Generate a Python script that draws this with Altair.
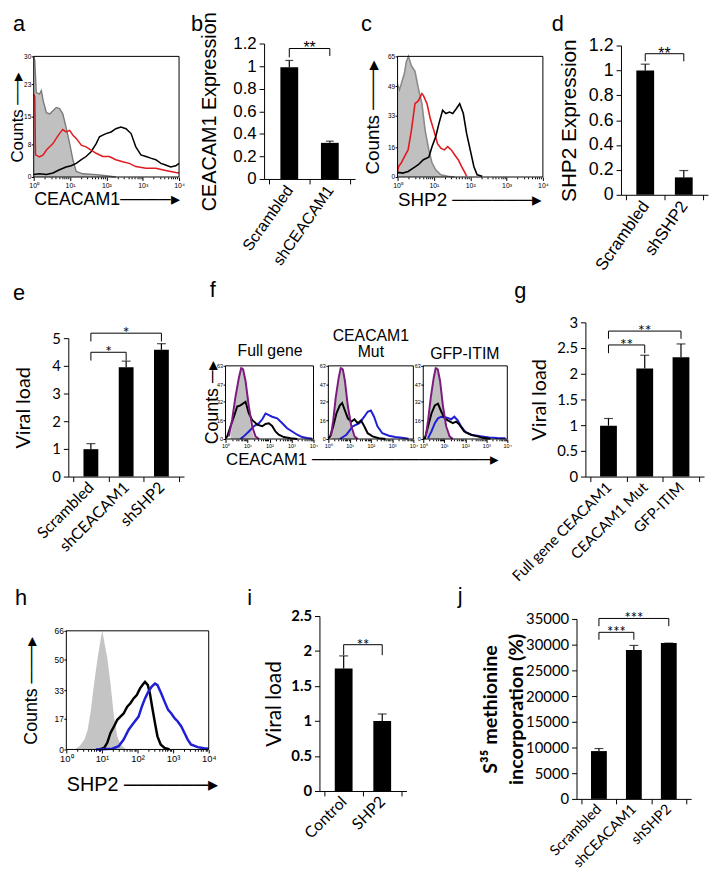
import altair as alt
import numpy as np
import pandas as pd

W, H = 709, 864
ARIAL = "Liberation Sans"
CAL = "Lato"

# ---------------- flow histograms: x = log10(fluorescence), y = counts ----------------
# panel a (CEACAM1)
a_gray_x = [0.0, 0.03, 0.07, 0.16, 0.21, 0.26, 0.35, 0.44, 0.53, 0.62, 0.71, 0.80, 0.89, 0.99, 1.08, 1.17, 1.35, 1.72, 1.99, 2.26]
a_gray_y = [30, 29, 21, 20.6, 21.5, 19, 16, 15.7, 16.5, 17.3, 17, 15.7, 12.4, 8.3, 4.2, 1.4, 0.8, 0.6, 0.3, 0]
a_red_x = [0.0, 0.03, 0.05, 0.16, 0.26, 0.35, 0.44, 0.53, 0.62, 0.71, 0.80, 0.89, 0.99, 1.08, 1.17, 1.31, 1.44, 1.58, 1.72, 1.90, 2.08, 2.26, 2.45, 2.63, 2.81, 3.09, 3.36, 3.63, 3.91, 4.0]
a_red_y = [20.6, 20, 5.5, 5, 5.5, 6.7, 7.5, 8.3, 9.6, 10.8, 11.8, 11.2, 11.6, 10.4, 9.6, 7.9, 7.5, 6.7, 5.9, 5.1, 5.1, 4.3, 3.8, 3.4, 2.6, 2.2, 2.2, 1.6, 1.1, 1.0]
a_blk_x = [0.0, 0.16, 0.35, 0.53, 0.71, 0.89, 1.03, 1.17, 1.31, 1.44, 1.58, 1.72, 1.81, 1.90, 1.99, 2.13, 2.26, 2.40, 2.54, 2.68, 2.81, 2.95, 3.09, 3.22, 3.36, 3.50, 3.63, 3.77, 3.91, 4.0]
a_blk_y = [0.6, 0.8, 0.6, 1.0, 1.8, 2.5, 2.8, 3.4, 4.3, 5.1, 6.3, 8.3, 10, 10.4, 10.8, 11.2, 12, 12.4, 12, 10.8, 7.5, 5.5, 5.1, 4.7, 4.3, 3.4, 3.0, 2.5, 2.8, 3.4]

# panel c (SHP2)
c_gray_x = [0.0, 0.05, 0.10, 0.19, 0.24, 0.30, 0.38, 0.48, 0.57, 0.67, 0.76, 0.86, 0.95, 1.05, 1.19, 1.38, 1.57]
c_gray_y = [50, 47, 50, 56, 62, 65, 60, 57, 48, 39.5, 25, 14.6, 7.5, 3.9, 1.2, 0.4, 0]
c_red_x = [0.0, 0.03, 0.10, 0.19, 0.29, 0.38, 0.48, 0.57, 0.67, 0.71, 0.81, 0.90, 1.0, 1.10, 1.19, 1.29, 1.38, 1.48, 1.57, 1.67, 1.76, 1.86, 1.90]
c_red_y = [3, 5.7, 7.5, 11, 14.6, 25, 39.5, 41, 44.9, 44, 39.5, 31.5, 25, 18, 15.5, 14.6, 16.4, 14.6, 12, 9.3, 5.7, 2.1, 0.4]
c_blk_x = [0.0, 0.03, 0.14, 0.29, 0.43, 0.57, 0.71, 0.86, 0.95, 1.05, 1.14, 1.24, 1.33, 1.43, 1.52, 1.62, 1.71, 1.81, 1.90, 2.0, 2.10, 2.19, 2.33]
c_blk_y = [2, 2.5, 2.1, 3, 4.8, 6.6, 9.3, 10.7, 16.4, 21.7, 28.9, 36, 34.2, 35, 34.2, 36.9, 39.5, 34.2, 23.5, 14.6, 5.7, 1.2, 0.4]

# panel f (three constructs)
f1_gray_x = [0.23, 0.38, 0.53, 0.68, 0.76, 0.83, 0.98, 1.14, 1.29, 1.44]
f1_gray_y = [2.3, 22, 42, 60, 63, 59, 36, 11, 1.7, 0]
f1_pur_x = [0.15, 0.30, 0.45, 0.61, 0.71, 0.80, 0.91, 1.06, 1.21, 1.36, 1.52]
f1_pur_y = [2.3, 16.4, 36, 53, 61, 60, 50, 28, 11, 2.3, 0]
f1_blk_x = [0.0, 0.08, 0.23, 0.38, 0.53, 0.68, 0.83, 0.91, 1.06, 1.21, 1.44, 1.67, 1.82, 1.97, 2.12, 2.27, 2.42, 2.65, 2.95, 3.26]
f1_blk_y = [0.5, 2.3, 11, 19.2, 28, 29, 31, 32, 22, 16.4, 12.4, 11, 13, 13.6, 11.3, 6.5, 3.7, 1.7, 0.6, 0]
f1_blu_x = [0.68, 0.83, 1.06, 1.29, 1.52, 1.67, 1.82, 1.97, 2.12, 2.35, 2.58, 2.80, 3.03, 3.26, 3.48, 3.71, 3.94]
f1_blu_y = [0, 2.3, 6.5, 11, 13.6, 17, 22, 20.6, 19.2, 17.8, 13.6, 9.3, 6.5, 3.7, 1.7, 0.8, 0.3]

f2_gray_x = [0.15, 0.31, 0.46, 0.58, 0.65, 0.74, 0.88, 1.03, 1.18, 1.34]
f2_gray_y = [2, 25, 48, 60, 63, 57, 35, 11, 2, 0]
f2_pur_x = [0.12, 0.23, 0.35, 0.49, 0.58, 0.68, 0.78, 0.92, 1.08, 1.23, 1.38]
f2_pur_y = [2.3, 16, 36, 53, 61, 60, 50, 28, 11, 2.3, 0]
f2_blk_x = [0.0, 0.08, 0.23, 0.38, 0.54, 0.65, 0.77, 0.92, 1.08, 1.23, 1.38, 1.54, 1.69, 1.85, 2.08, 2.38, 2.69]
f2_blk_y = [0.5, 2, 11, 22, 29, 31, 25, 17.8, 15, 17, 13.6, 16, 11, 5, 2.3, 0.6, 0]
f2_blu_x = [0.54, 0.85, 1.15, 1.46, 1.69, 1.85, 2.0, 2.15, 2.31, 2.54, 2.85, 3.15, 3.46, 3.77]
f2_blu_y = [0, 3.7, 11, 13.6, 19.2, 23.5, 24.5, 19.2, 11, 5, 2.8, 1.7, 1.1, 0.3]

f3_gray_x = [0.16, 0.31, 0.47, 0.59, 0.66, 0.75, 0.89, 1.05, 1.20, 1.36]
f3_gray_y = [2, 25, 48, 60, 63, 57, 35, 11, 2, 0]
f3_pur_x = [0.12, 0.23, 0.36, 0.50, 0.59, 0.69, 0.80, 0.94, 1.09, 1.25, 1.41]
f3_pur_y = [2.3, 16, 36, 53, 61, 60, 50, 28, 11, 2.3, 0]
f3_blk_x = [0.0, 0.08, 0.23, 0.39, 0.55, 0.70, 0.86, 1.02, 1.17, 1.41, 1.56, 1.72, 1.95, 2.27, 2.58, 2.89, 3.20]
f3_blk_y = [0.5, 0.8, 11, 22, 29, 30.5, 23.5, 17.8, 16, 13.6, 15, 12.4, 6.5, 3.7, 2.3, 0.8, 0.3]
f3_blu_x = [0.23, 0.39, 0.55, 0.70, 0.86, 1.09, 1.33, 1.48, 1.64, 1.80, 2.03, 2.34, 2.73, 3.13, 3.52, 3.91]
f3_blu_y = [0.8, 6.5, 13.6, 17.8, 19.2, 18.6, 17, 19.2, 16, 11, 5.6, 3.4, 2.3, 1.4, 0.8, 0.6]

# panel h (SHP2)
h_gray_x = [0.23, 0.37, 0.51, 0.60, 0.69, 0.78, 0.88, 0.97, 1.01, 1.06, 1.15, 1.24, 1.34, 1.43, 1.52, 1.66, 1.80]
h_gray_y = [0, 1.8, 5.5, 11, 22, 36.7, 51, 62, 66, 60.5, 51, 36.7, 18, 7.3, 2.75, 0.4, 0]
h_blk_x = [0.92, 1.06, 1.15, 1.24, 1.34, 1.43, 1.52, 1.61, 1.71, 1.80, 1.89, 1.98, 2.07, 2.17, 2.21, 2.29, 2.35, 2.41, 2.49, 2.56, 2.65, 2.76, 2.90]
h_blk_y = [0, 0.9, 3.7, 9.2, 12.8, 16.5, 18.3, 20, 23.8, 25.7, 28.4, 30.3, 34, 36.7, 37.6, 35.8, 31, 23.8, 14.7, 7.3, 2.75, 0.9, 0]
h_blu_x = [0.83, 1.29, 1.47, 1.61, 1.75, 1.89, 2.03, 2.12, 2.21, 2.30, 2.40, 2.49, 2.56, 2.67, 2.76, 2.86, 2.95, 3.04, 3.13, 3.23, 3.32, 3.41, 3.50, 3.69, 3.87, 4.0]
h_blu_y = [0, 0.4, 1.8, 5.5, 11, 14.7, 18.3, 23.8, 28.4, 32, 35, 36.7, 35.8, 31, 26.6, 22, 20, 17.4, 15.6, 12.8, 9.2, 5.5, 2.75, 1.3, 0.7, 0.4]

# ---------------- bar panels ----------------
b_cats = ["Scrambled", "shCEACAM1"]
b_vals = [0.99, 0.32]
b_errs = [0.06, 0.015]
b_brackets = [(0, 1, 1.156, 1.077, 1.09, "**")]

d_cats = ["Scrambled", "shSHP2"]
d_vals = [1.0, 0.14]
d_errs = [0.05, 0.055]
d_brackets = [(0, 1, 1.134, 1.073, 1.073, "**")]

e_cats = ["Scrambled", "shCEACAM1", "shSHP2"]
e_vals = [0.99, 3.95, 4.58]
e_errs = [0.2, 0.22, 0.22]
e_brackets = [(0, 1, 4.49, 4.19, 4.19, "*"), (0, 2, 5.18, 4.88, 4.88, "*")]

g_cats = ["Full gene CEACAM1", "CEACAM1 Mut", "GFP-ITIM"]
g_vals = [0.99, 2.10, 2.32]
g_errs = [0.14, 0.26, 0.26]
g_brackets = [(0, 1, 2.56, 2.40, 2.40, "**"), (0, 2, 2.83, 2.68, 2.68, "**")]

i_cats = ["Control", "SHP2"]
i_vals = [1.75, 1.0]
i_errs = [0.18, 0.1]
i_brackets = [(0, 1, 2.09, 1.94, 1.94, "**")]

j_cats = ["Scrambled", "shCEACAM1", "shSHP2"]
j_vals = [9300, 28950, 30300]
j_errs = [500, 900, 0]
j_brackets = [(0, 1, 32400, 30950, 30950, "***"), (0, 2, 35100, 33600, 33600, "***")]

# ---------------- helpers ----------------
MAJOR = [0, 1, 2, 3, 4]
MINOR = [float(d + np.log10(k)) for d in range(4) for k in range(2, 10)]
SUP = "['\u2070','\u00b9','\u00b2','\u00b3','\u2074']"
LOG_LABEL = "datum.value % 1 == 0 ? '10' + " + SUP + "[datum.value] : ''"
MINOR_TICK = {"condition": {"test": "datum.value % 1 != 0", "value": 1.8}, "value": 3.5}
ARROW = "\u2500"
HEAD = "\u25b8"


def hist_panel(box, ymax, yvals, ylab_fs, xlab_fs, area, curves,
               ytitle="", ytitle_fs=18, ytitle_x=0, xtitle="", xtitle_fs=18, xtitle_y=0):
    x0, x1, y0, y1 = box
    xs = alt.Scale(domain=[0, 4], range=[x0, x1], nice=False, zero=False)
    ys = alt.Scale(domain=[0, ymax], range=[y1, y0], nice=False, zero=False)
    xa = alt.Axis(orient="bottom", offset=y1 - H, values=MAJOR + MINOR, labelExpr=LOG_LABEL,
                  labelFont=ARIAL, labelFontSize=xlab_fs, labelPadding=1, labelOverlap=False,
                  labelFlush=False, tickSize=MINOR_TICK, domain=False, grid=False,
                  title=xtitle, titleFont=ARIAL, titleFontSize=xtitle_fs, titleFontWeight="normal",
                  titleAnchor="start", titleBaseline="top", titleY=xtitle_y, titleLimit=1000)
    ya = alt.Axis(orient="left", offset=-x0, values=yvals, labelFont=ARIAL, labelFontSize=ylab_fs,
                  labelPadding=0.5, tickSize=2.5, labelOverlap=False, domain=False, grid=False,
                  title=ytitle, titleFont=ARIAL, titleFontSize=ytitle_fs, titleFontWeight="normal",
                  titleBaseline="middle", titleX=ytitle_x, titleLimit=1000)

    def enc(ch):
        return ch.encode(x=alt.X("x:Q", scale=xs, axis=xa), y=alt.Y("y:Q", scale=ys, axis=ya))

    layers = []
    ax_, ay_, fill, outline, ow = area
    adf = pd.DataFrame({"x": ax_, "y": ay_})
    layers.append(alt.Chart(adf).mark_area(color=fill, opacity=1).encode(
        x=alt.X("x:Q", scale=xs, axis=xa), y=alt.Y("y:Q", scale=ys, axis=ya), y2=alt.datum(0)))
    if outline:
        layers.append(enc(alt.Chart(adf).mark_line(color=outline, strokeWidth=ow)))
    for cx, cy, col, sw in curves:
        cdf = pd.DataFrame({"x": cx, "y": cy})
        layers.append(enc(alt.Chart(cdf).mark_line(color=col, strokeWidth=sw)))
    fdf = pd.DataFrame({"x": [0], "x2": [4], "y": [0], "y2": [ymax]})
    layers.append(alt.Chart(fdf).mark_rect(filled=False, color="black", strokeWidth=1).encode(
        x=alt.X("x:Q", scale=xs, axis=xa), x2="x2:Q",
        y=alt.Y("y:Q", scale=ys, axis=ya), y2="y2:Q"))
    return alt.layer(*layers)


def bar_panel(box, cats, vals, errs, brackets, ymax, yvals, yfmt, font, ylab_fs, ylab_weight,
              ytitle, ytitle_fs, ytitle_x, ytitle_weight, xlab_fs, xlab_angle, bar_w, cap_w, star_fs,
              title_lh=None):
    x0, x1, y0, y1 = box
    n = len(cats)
    centers = [i + 0.5 for i in range(n)]
    xs = alt.Scale(domain=[0, n], range=[x0, x1], nice=False, zero=False)
    ys = alt.Scale(domain=[0, ymax], range=[y1, y0], nice=False, zero=False)
    lab = " : ".join(f"datum.value == {c} ? '{name}'" for c, name in zip(centers, cats)) + " : ''"
    xa = alt.Axis(orient="bottom", offset=y1 - H, values=sorted(list(range(n + 1)) + centers),
                  labelExpr=lab, labelAngle=xlab_angle, labelAlign="right", labelBaseline="middle",
                  labelFont=font, labelFontSize=xlab_fs, labelPadding=3, labelOverlap=False,
                  labelFlush=False, tickSize=5,
                  tickOpacity={"condition": {"test": "datum.value % 1 != 0", "value": 0}, "value": 1},
                  grid=False, title="")
    yextra = {}
    if title_lh:
        yextra["titleLineHeight"] = title_lh
    ya = alt.Axis(orient="left", offset=-x0, values=yvals, format=yfmt, labelFont=font,
                  labelFontSize=ylab_fs, labelFontWeight=ylab_weight, labelPadding=3, tickSize=5,
                  labelOverlap=False, grid=False, title=ytitle, titleFont=font, titleFontSize=ytitle_fs,
                  titleFontWeight=ytitle_weight, titleBaseline="middle", titleX=ytitle_x,
                  titleLimit=1000, **yextra)
    X = lambda f: alt.X(f, type="quantitative", scale=xs, axis=xa)
    Y = lambda f: alt.Y(f, type="quantitative", scale=ys, axis=ya)

    bdf = pd.DataFrame({"xc": centers, "v": vals, "top": [v + e for v, e in zip(vals, errs)]})
    layers = [
        alt.Chart(bdf).mark_bar(size=bar_w, color="black", orient="vertical").encode(
            x=X("xc"), y=Y("v"), y2=alt.datum(0)),
        alt.Chart(bdf).mark_rule(color="black", strokeWidth=1.2).encode(x=X("xc"), y=Y("v"), y2="top:Q"),
        alt.Chart(bdf).mark_tick(color="black", orient="horizontal", size=cap_w, thickness=1.2).encode(
            x=X("xc"), y=Y("top")),
    ]
    rows, stars = [], []
    for gi, (a, b, top, le, re_, s) in enumerate(brackets):
        rows += [(a + 0.5, le, gi, 0), (a + 0.5, top, gi, 1), (b + 0.5, top, gi, 2), (b + 0.5, re_, gi, 3)]
        stars.append(((a + b) / 2 + 0.5, top, s))
    brdf = pd.DataFrame(rows, columns=["bx", "by", "g", "k"])
    sdf = pd.DataFrame(stars, columns=["sx", "sy", "s"])
    layers.append(alt.Chart(brdf).mark_line(color="black", strokeWidth=1).encode(
        x=X("bx"), y=Y("by"), detail="g:N", order="k:Q"))
    layers.append(alt.Chart(sdf).mark_text(font=font, fontSize=star_fs, baseline="alphabetic",
                                           dy=round(0.45 * star_fs - 2)).encode(
        x=X("sx"), y=Y("sy"), text="s:N"))
    return alt.layer(*layers)


def label(txt, x, y, size=22, font=ARIAL, align="left"):
    return alt.Chart(pd.DataFrame({"t": [txt]})).mark_text(
        font=font, fontSize=size, align=align, baseline="alphabetic", color="black").encode(
        x=alt.value(x), y=alt.value(y), text="t:N")


GRAY = "#c0c0c0"
RED = "#e2191e"
BLUE = "#1f1fd6"
PURPLE = "#7d1a7d"

panels = []
# a
panels.append(hist_panel((26, 173, 44, 166), 30, [0, 8, 15, 23, 30], 6.5, 7,
                         (a_gray_x, a_gray_y, GRAY, "#7a7a7a", 1.4),
                         [(a_blk_x, a_blk_y, "black", 1.5), (a_red_x, a_red_y, RED, 1.5)],
                         ytitle="Counts " + ARROW * 2 + HEAD, ytitle_fs=17, ytitle_x=-16,
                         xtitle="CEACAM1" + ARROW * 4 + HEAD, xtitle_fs=18, xtitle_y=14))
# b
panels.append(bar_panel((259, 351, 31, 168), b_cats, b_vals, b_errs, b_brackets, 1.2,
                        [0, 0.2, 0.4, 0.6, 0.8, 1.0, 1.2], ".1~f", ARIAL, 17, "normal",
                        "CEACAM1 Expression", 20, -55, "normal", 16, -55, 18, 8, 16))
# c
panels.append(hist_panel((394, 541, 44, 166), 65, [0, 16, 33, 49, 65], 6.5, 7,
                         (c_gray_x, c_gray_y, GRAY, "#8a8a8a", 1.6),
                         [(c_red_x, c_red_y, RED, 1.6), (c_blk_x, c_blk_y, "black", 1.6)],
                         ytitle="Counts " + ARROW * 3 + HEAD, ytitle_fs=19, ytitle_x=-25,
                         xtitle="SHP2 " + ARROW * 6 + HEAD, xtitle_fs=19, xtitle_y=14))
# d
panels.append(bar_panel((620, 708, 33, 184), d_cats, d_vals, d_errs, d_brackets, 1.2,
                        [0, 0.2, 0.4, 0.6, 0.8, 1.0, 1.2], ".1~f", ARIAL, 18, "normal",
                        "SHP2 Expression", 21, -52, "normal", 17, -55, 18, 9, 16))
# e
panels.append(bar_panel((61, 178, 329, 469), e_cats, e_vals, e_errs, e_brackets, 5,
                        [0, 1, 2, 3, 4, 5], "d", CAL, 15, "normal",
                        "Viral load", 20, -45, "normal", 16, -45, 15, 9, 16))
# f
F_LAB = 5.5
panels.append(hist_panel((220, 309, 357, 431), 63, [0, 16, 32, 47, 63], F_LAB, F_LAB,
                         (f1_gray_x, f1_gray_y, GRAY, None, 0),
                         [(f1_blu_x, f1_blu_y, BLUE, 2), (f1_blk_x, f1_blk_y, "black", 2),
                          (f1_pur_x, f1_pur_y, PURPLE, 2)],
                         ytitle="Counts " + ARROW + HEAD, ytitle_fs=18, ytitle_x=-13,
                         xtitle="CEACAM1 " + ARROW * 15 + HEAD, xtitle_fs=17, xtitle_y=13))
panels.append(hist_panel((324, 410, 357, 431), 63, [0, 16, 32, 47, 63], F_LAB, F_LAB,
                         (f2_gray_x, f2_gray_y, GRAY, None, 0),
                         [(f2_blu_x, f2_blu_y, BLUE, 2), (f2_blk_x, f2_blk_y, "black", 2),
                          (f2_pur_x, f2_pur_y, PURPLE, 2)]))
panels.append(hist_panel((420, 505, 357, 431), 63, [0, 16, 32, 47, 63], F_LAB, F_LAB,
                         (f3_gray_x, f3_gray_y, GRAY, None, 0),
                         [(f3_blu_x, f3_blu_y, BLUE, 2), (f3_blk_x, f3_blk_y, "black", 2),
                          (f3_pur_x, f3_pur_y, PURPLE, 2)]))
# g
panels.append(bar_panel((584, 704, 313, 469), g_cats, g_vals, g_errs, g_brackets, 3,
                        [0, 0.5, 1, 1.5, 2, 2.5, 3], ".1~f", CAL, 15, "normal",
                        "Viral load", 20, -46, "normal", 15, -45, 17, 9, 16))
# h
panels.append(hist_panel((59, 203, 625, 745), 66, [0, 17, 33, 50, 66], 8.5, 9.5,
                         (h_gray_x, h_gray_y, "#c4c4c4", None, 0),
                         [(h_blk_x, h_blk_y, "black", 2.5), (h_blu_x, h_blu_y, BLUE, 2.5)],
                         ytitle="Counts " + ARROW * 3 + HEAD, ytitle_fs=18, ytitle_x=-35,
                         xtitle="SHP2 " + ARROW * 6 + HEAD, xtitle_fs=20, xtitle_y=25))
# i
panels.append(bar_panel((315, 403, 610, 787), i_cats, i_vals, i_errs, i_brackets, 2.5,
                        [0, 0.5, 1, 1.5, 2, 2.5], ".1~f", CAL, 15, "bold",
                        "Viral load", 21, -45, "normal", 16, -45, 18, 9, 15))
# j
panels.append(bar_panel((575, 691, 613, 795), j_cats, j_vals, j_errs, j_brackets, 35000,
                        [0, 5000, 10000, 15000, 20000, 25000, 30000, 35000], "d", CAL, 15, "normal",
                        ["S\u00b3\u2075 methionine", "incorporation (%)"], 20, -87, "bold",
                        14.5, -45, 16, 9, 15, title_lh=26))

# panel letters and the f construct titles
texts = [
    label("a", 5, 18), label("b", 185, 18), label("c", 357, 18), label("d", 550, 18),
    label("e", 5, 290), label("f", 204, 287), label("g", 512, 288),
    label("h", 7, 599), label("i", 242, 599), label("j", 455, 597),
    label("Full gene", 265, 347, 16, ARIAL, "center"),
    label("CEACAM1", 367, 332, 16, ARIAL, "center"),
    label("Mut", 367, 348, 16, ARIAL, "center"),
    label("GFP-ITIM", 462, 350, 16, ARIAL, "center"),
]

chart = alt.layer(*panels, *texts).resolve_scale(x="independent", y="independent").properties(
    width=W, height=H, padding=0, autosize=alt.AutoSizeParams(type="none")
).configure_view(stroke=None).configure_axis(
    grid=False, domainColor="black", tickColor="black", labelColor="black", titleColor="black"
)

chart.save("out.html", embed_options={"renderer": "svg", "actions": False})
